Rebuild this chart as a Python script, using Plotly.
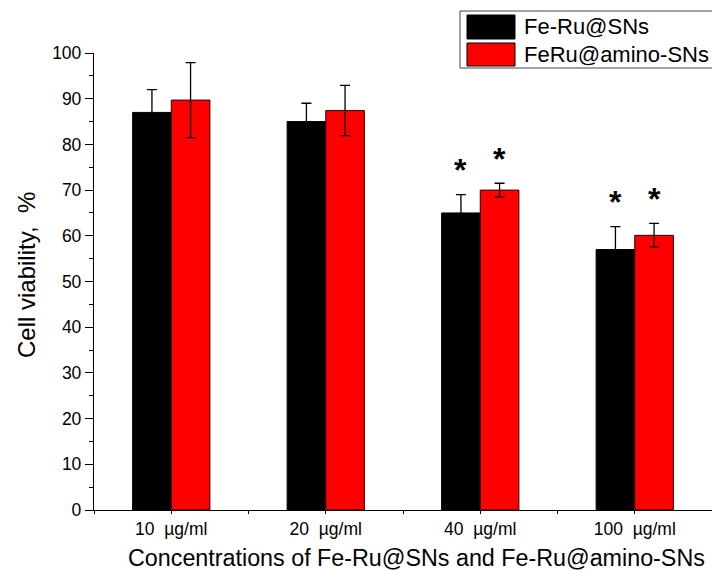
import plotly.graph_objects as go

# ---------------- data ----------------
categories = ["10  µg/ml", "20  µg/ml", "40  µg/ml", "100  µg/ml"]
series_names = ["Fe-Ru@SNs", "FeRu@amino-SNs"]
feru_sns = [87.0, 85.0, 65.0, 57.0]
feru_sns_err = [5.0, 4.0, 4.0, 5.0]
feru_amino = [89.7, 87.4, 70.0, 60.1]
feru_amino_err = [8.2, 5.5, 1.5, 2.6]
significant = [False, False, True, True]
y_ticks = [0, 10, 20, 30, 40, 50, 60, 70, 80, 90, 100]
x_title = "Concentrations of Fe-Ru@SNs and Fe-Ru@amino-SNs"
y_title = "Cell viability,  %"

colors = ["#000000", "#ff0000"]
edge_colors = ["#000000", "#2a0000"]
FONT = "Arial, 'Liberation Sans', sans-serif"

W, H = 712, 570
L, R, T, B = 94, 712, 53, 510

def px_x(px):
    return (px - L) / (R - L)

def px_y(py):
    return (B - py) / (B - T)

xpos = list(range(len(categories)))

fig = go.Figure()
for name, vals, errs, col, ec in [
    (series_names[0], feru_sns, feru_sns_err, colors[0], edge_colors[0]),
    (series_names[1], feru_amino, feru_amino_err, colors[1], edge_colors[1]),
]:
    fig.add_trace(go.Bar(
        x=xpos, y=vals, name=name,
        marker=dict(color=col, line=dict(color=ec, width=1)),
        error_y=dict(type="data", array=errs, visible=True,
                     color="#000000", thickness=1.3, width=5),
        showlegend=False,
    ))

# significance asterisks
annotations = []
bar_w = 0.25
for s, (vals, errs) in enumerate([(feru_sns, feru_sns_err), (feru_amino, feru_amino_err)]):
    off = -bar_w / 2 if s == 0 else bar_w / 2
    for i, sig in enumerate(significant):
        if sig:
            annotations.append(dict(
                x=i + off, y=vals[i] + errs[i] + 6.5, xref="x", yref="y",
                text="<b>*</b>", showarrow=False,
                font=dict(family=FONT, size=32, color="#000000"),
                xanchor="center", yanchor="middle", yshift=-5,
            ))

# custom legend (large swatches)
shapes = [
    dict(type="rect", xref="paper", yref="paper",
         x0=px_x(460), x1=px_x(760), y0=px_y(68), y1=px_y(11),
         line=dict(color="#444444", width=1), fillcolor="rgba(0,0,0,0)"),
]
rows = [(15, 39), (43, 66)]
for k, (y0, y1) in enumerate(rows):
    shapes.append(dict(type="rect", xref="paper", yref="paper",
                       x0=px_x(467), x1=px_x(515), y0=px_y(y1), y1=px_y(y0),
                       line=dict(color="#000000", width=1), fillcolor=colors[k]))
    annotations.append(dict(
        x=px_x(522), y=px_y((y0 + y1) / 2), xref="paper", yref="paper",
        text=series_names[k], showarrow=False, xanchor="left", yanchor="middle",
        font=dict(family=FONT, size=22, color="#000000"),
    ))

# axis titles
annotations.append(dict(
    x=px_x(416), y=px_y(558), xref="paper", yref="paper", text=x_title,
    showarrow=False, xanchor="center", yanchor="middle",
    font=dict(family=FONT, size=23.3, color="#000000"),
))
annotations.append(dict(
    x=px_x(26), y=px_y(275), xref="paper", yref="paper", text=y_title,
    showarrow=False, xanchor="center", yanchor="middle", textangle=-90,
    font=dict(family=FONT, size=24, color="#000000"),
))

fig.update_layout(
    width=W, height=H,
    margin=dict(l=L, r=W - R, t=T, b=H - B, pad=0),
    paper_bgcolor="white", plot_bgcolor="white",
    barmode="group", bargap=0.5, bargroupgap=0,
    font=dict(family=FONT, color="#000000"),
    shapes=shapes, annotations=annotations,
    xaxis=dict(
        range=[-0.5, 3.5], tickvals=xpos, ticktext=categories,
        showline=True, linecolor="#000000", linewidth=1.3,
        ticks="outside", ticklen=3, tickcolor="#000000", tickwidth=1,
        minor=dict(tickvals=[-0.5, 0.5, 1.5, 2.5, 3.5], ticks="outside", ticklen=3,
                   tickcolor="#000000", tickwidth=1),
        showgrid=False, zeroline=False,
        tickfont=dict(family=FONT, size=17.5),
        automargin=False,
    ),
    yaxis=dict(
        range=[0, 100], tickvals=y_ticks,
        showline=True, linecolor="#000000", linewidth=1.3,
        ticks="outside", ticklen=8, tickcolor="#000000", tickwidth=1.3,
        minor=dict(dtick=5, ticks="outside", ticklen=4, tickcolor="#000000", tickwidth=1.3),
        showgrid=False, zeroline=False,
        tickfont=dict(family=FONT, size=17.5),
        automargin=False,
    ),
)

fig.write_html("out.html")
